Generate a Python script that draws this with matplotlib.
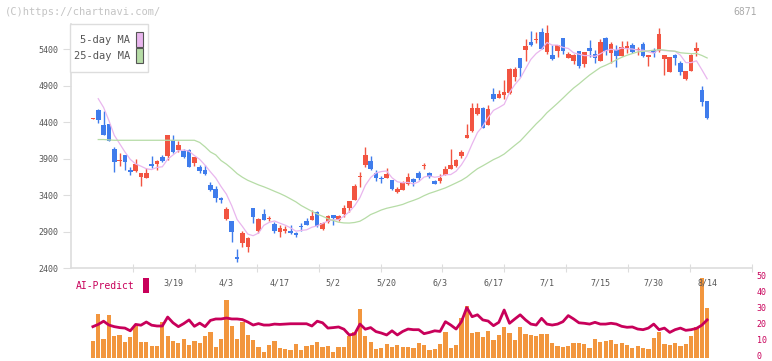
import numpy as np
import pandas as pd
import matplotlib
matplotlib.use("Agg")
import matplotlib.pyplot as plt
from matplotlib.patches import Rectangle
import matplotlib.transforms as mtransforms

plt.rcParams['font.family'] = ['DejaVu Sans Mono']

# daily candles (yen)
opens = [4440, 4565, 4360, 4373, 4031, 3870, 3948, 3743, 3729, 3647,
         3634, 3825, 3825, 3921, 3935, 4154, 4017, 4003, 4017, 3839,
         3784, 3743, 3538, 3483, 3359, 3072, 3044, 2542, 2743, 2688,
         3222, 2907, 3140, 3072, 3003, 2894, 2907, 2907, 2880, 2966,
         3044, 3058, 3168, 2935, 3031, 3127, 3058, 3140, 3222, 3332,
         3640, 3811, 3866, 3702, 3627, 3634, 3606, 3442, 3469, 3551,
         3620, 3702, 3798, 3702, 3592, 3592, 3675, 3757, 3798, 3935,
         4181, 4277, 4510, 4593, 4360, 4784, 4729, 4770, 4798, 5017,
         5277, 5387, 5497, 5520, 5634, 5360, 5318, 5373, 5551, 5277,
         5236, 5373, 5195, 5414, 5332, 5236, 5551, 5346, 5387, 5305,
         5414, 5456, 5380, 5469, 5291, 5387, 5373, 5264, 5086, 5318,
         5209, 4990, 5099, 5373, 4839, 4688]
highs = [4460, 4579, 4551, 4373, 4058, 3976, 3948, 3784, 3894, 3702,
         3770, 3935, 3880, 3948, 4222, 4222, 4140, 4031, 4031, 3921,
         3811, 3811, 3579, 3524, 3373, 3236, 3044, 2661, 2907, 2825,
         3222, 3085, 3209, 3113, 3031, 2989, 2976, 2989, 2894, 3017,
         3085, 3195, 3181, 3031, 3127, 3127, 3127, 3264, 3318, 3551,
         3716, 4058, 3935, 3743, 3661, 3770, 3606, 3510, 3592, 3702,
         3634, 3729, 3839, 3716, 3606, 3688, 3798, 4031, 3890, 4017,
         4373, 4661, 4661, 4606, 4634, 4866, 4839, 4976, 5140, 5154,
         5277, 5538, 5647, 5634, 5688, 5730, 5456, 5455, 5551, 5360,
         5332, 5373, 5360, 5524, 5387, 5538, 5565, 5497, 5456, 5510,
         5510, 5483, 5428, 5497, 5318, 5414, 5688, 5318, 5291, 5332,
         5236, 5099, 5332, 5497, 4894, 4688]
lows = [4440, 4387, 4222, 4140, 3716, 3798, 3743, 3675, 3716, 3524,
        3634, 3770, 3743, 3853, 3880, 3976, 3990, 3907, 3784, 3798,
        3702, 3675, 3455, 3305, 3291, 3058, 2757, 2483, 2688, 2620,
        3017, 2880, 3058, 3044, 2880, 2825, 2880, 2866, 2825, 2907,
        2989, 3058, 2966, 2921, 3017, 2989, 3044, 3099, 3168, 3332,
        3510, 3784, 3743, 3592, 3565, 3634, 3469, 3428, 3469, 3538,
        3524, 3606, 3757, 3634, 3551, 3565, 3675, 3757, 3790, 3907,
        4181, 4263, 4496, 4318, 4360, 4688, 4729, 4716, 4780, 4962,
        5017, 5236, 5442, 5483, 5401, 5332, 5250, 5291, 5332, 5277,
        5195, 5140, 5154, 5291, 5209, 5236, 5318, 5209, 5154, 5305,
        5346, 5346, 5318, 5291, 5168, 5291, 5360, 5044, 5086, 5181,
        5044, 4976, 5099, 5305, 4620, 4441]
closes = [4450, 4428, 4222, 4140, 3853, 3880, 3853, 3716, 3825, 3702,
          3702, 3798, 3866, 3866, 4222, 3990, 4086, 3921, 3784, 3921,
          3729, 3688, 3469, 3359, 3332, 3209, 2894, 2530, 2880, 2811,
          3099, 3072, 3058, 3085, 2907, 2948, 2935, 2880, 2853, 2958,
          2989, 3113, 2976, 3017, 3113, 3085, 3113, 3222, 3318, 3524,
          3647, 3948, 3757, 3634, 3620, 3688, 3483, 3483, 3565, 3647,
          3579, 3634, 3805, 3647, 3551, 3634, 3757, 3811, 3880, 3990,
          4222, 4593, 4593, 4318, 4579, 4716, 4784, 4812, 5127, 5127,
          5140, 5442, 5455, 5530, 5401, 5620, 5264, 5455, 5373, 5332,
          5318, 5168, 5360, 5373, 5277, 5497, 5373, 5469, 5305, 5428,
          5442, 5360, 5387, 5305, 5318, 5346, 5606, 5318, 5291, 5277,
          5086, 5099, 5318, 5414, 4675, 4455]

# moving averages before enough candles are on screen
ma5_head = [np.nan, 4720, 4600, 4420]
ma25_head = [np.nan, 4160, 4160, 4155, 4150, 4150, 4150, 4150, 4150, 4150,
             4150, 4150, 4150, 4150, 4150, 4150, 4150, 4150, 4150, 4150,
             4120, 4060, 3990, 3950]

# AI-Predict panel
ai_bars = [10.6, 27.5, 11.9, 26.9, 13.8, 14.4, 10, 13.1, 20, 10,
           10, 7.5, 7.5, 22.5, 13.8, 10.6, 9.4, 11.9, 8.1, 10.6,
           9.4, 13.8, 16.2, 6.9, 11.9, 36.2, 20, 11.9, 22.5, 14.4,
           11.2, 6.9, 3.8, 8.1, 10.6, 6.2, 5.6, 5, 8.8, 5,
           7.5, 8.1, 10, 6.9, 7.5, 3.8, 6.9, 6.9, 13.8, 16.2,
           30.6, 13.8, 10, 5.6, 6.2, 8.8, 6.9, 8.1, 6.9, 6.9,
           6.2, 9.4, 8.1, 5, 5.6, 8.8, 16.2, 6.2, 8.1, 25,
           32.5, 15.6, 16.2, 13.1, 16.9, 11.2, 14.4, 19.4, 15.6, 11.2,
           19.4, 15, 14.4, 13.8, 15, 15, 9.4, 7.5, 6.9, 7.5,
           9.4, 9.4, 8.8, 6.2, 11.9, 10, 10.6, 11.2, 8.8, 9.4,
           8.1, 6.2, 7.5, 6.2, 5.6, 12.5, 16.2, 8.8, 8.1, 9.4,
           7.5, 8.8, 13.8, 19.4, 50, 31]
ai_line = [19.6, 21, 23, 20.6, 19.6, 19, 18.7, 17, 21, 20.5,
           22.5, 20.5, 20, 20, 25.6, 22, 19.6, 21.5, 23.8, 19.8,
           21.8, 19.6, 23.5, 24.4, 24.4, 25, 24.4, 24.4, 24, 22.5,
           20.6, 21.5, 20.6, 20.6, 21.2, 21, 21.2, 21.4, 21.4, 21.4,
           21.4, 20, 23, 22, 18.7, 19, 19.4, 18, 14.4, 15,
           21.2, 18, 19, 16.5, 15.6, 14.4, 17, 14.4, 16.6, 18.1,
           17.7, 17.7, 15.2, 16, 17, 16.6, 22.7, 20.6, 18.1, 22.7,
           31.5, 25.8, 27, 23.8, 23.1, 20.2, 22.3, 30, 21.7, 24.4,
           27, 23.8, 21.2, 20.6, 24.8, 21.2, 20.6, 21.2, 22.7, 26.5,
           24.4, 22, 21.7, 21.2, 22.3, 21.2, 21.2, 21.7, 21.2, 19.8,
           19.2, 19.4, 18.1, 17.7, 18.7, 21.2, 17.7, 18.7, 16, 17.7,
           18.7, 17.3, 17.7, 18.5, 20.5, 23.8]
ai_ticks = [0, 10, 20, 30, 40, 50]

date_labels = ['3/19', '4/3', '4/17', '5/2', '5/20', '6/3', '6/17',
               '7/1', '7/15', '7/30', '8/14']
date_pos = [15, 25, 35, 45, 55, 65, 75, 85, 95, 105, 115]
price_ticks = [2400, 2900, 3400, 3900, 4400, 4900, 5400]

RED = '#f25441'
BLUE = '#3f7cec'
PINK = '#e9b6ee'
GREEN = '#b6dca6'
ORANGE = '#f2963e'
MAGENTA = '#c8005a'
GRID = '#dddddd'
TXT = '#555555'

W, H = 772, 361


def box(l, t, r, b):
    return [l / W, 1 - b / H, (r - l) / W, (b - t) / H]


o = np.array(opens, float)
h = np.array(highs, float)
lo = np.array(lows, float)
c = np.array(closes, float)
x = np.arange(len(c))

ma5 = pd.Series(c).rolling(5).mean().to_numpy()
ma5[:len(ma5_head)] = ma5_head
ma25 = pd.Series(c).rolling(25).mean().to_numpy()
ma25[:len(ma25_head)] = ma25_head

fig = plt.figure(figsize=(W / 100, H / 100), dpi=100)
ax = fig.add_axes(box(71, 24, 752, 268))
ax2 = fig.add_axes(box(71, 278, 752, 358))
xlim = (-4.1, 123.4)

# candles
col = np.where(c >= o, RED, BLUE)
body_lo = np.minimum(o, c)
body_h = np.maximum(np.abs(c - o), 14)
ax.vlines(x, lo, h, colors=col, lw=1, zorder=2)
ax.bar(x, body_h, bottom=body_lo, width=0.85, color=col, zorder=3)
ax.plot(x, ma5, color=PINK, lw=0.9, zorder=4)
ax.plot(x, ma25, color=GREEN, lw=0.9, zorder=4)

ax.set_xlim(*xlim)
ax.set_ylim(2400, 5743)
ax.set_yticks(price_ticks)
ax.set_yticklabels([str(v) for v in price_ticks])
ax.set_xticks(np.linspace(xlim[0], xlim[1], 12)[1:])
ax.set_xticklabels([])
ax.tick_params(axis='y', length=6, color=GRID, labelsize=6, labelcolor=TXT, pad=3)
ax.tick_params(axis='x', length=6, direction='inout', color=GRID)
for s in ['top', 'right']:
    ax.spines[s].set_visible(False)
for s in ['left', 'bottom']:
    ax.spines[s].set_color(GRID)
    ax.spines[s].set_linewidth(1.2)

# AI-Predict panel
ax2.bar(x, ai_bars, width=0.8, color=ORANGE, zorder=2)
ax2.plot(x, ai_line, color=MAGENTA, lw=2, zorder=3)
ax2.set_xlim(*xlim)
ax2.set_ylim(0, 50)
ax2.set_xticks([])
ax2.set_yticks([])
for s in ax2.spines.values():
    s.set_visible(False)
ax2.patch.set_alpha(0)

rtrans = mtransforms.blended_transform_factory(ax2.transAxes, ax2.transData)
for v in ai_ticks:
    ax2.text(1.007, v + 1.2, str(v), transform=rtrans, ha='left',
             va='center', fontsize=6, color=MAGENTA, clip_on=False)

trans = mtransforms.blended_transform_factory(ax2.transData, ax2.transAxes)
for p, lab in zip(date_pos, date_labels):
    ax2.text(p, 0.94, lab, transform=trans, ha='center', va='center',
             fontsize=6, color=TXT, zorder=5)

# legend
fig.add_artist(Rectangle((70 / W, 1 - 72 / H), 78 / W, 48 / H,
                         transform=fig.transFigure, facecolor='white',
                         edgecolor=GRID, lw=1, zorder=5))
fig.add_artist(Rectangle((136 / W, 1 - 47 / H), 7 / W, 15 / H,
                         transform=fig.transFigure, facecolor=PINK,
                         edgecolor='#555555', lw=0.8, zorder=6))
fig.add_artist(Rectangle((136 / W, 1 - 63 / H), 7 / W, 15 / H,
                         transform=fig.transFigure, facecolor=GREEN,
                         edgecolor='#555555', lw=0.8, zorder=6))
fig.text(130 / W, 1 - 40 / H, '5-day MA', ha='right', va='center',
         fontsize=7.5, color=TXT, zorder=7)
fig.text(130 / W, 1 - 56 / H, '25-day MA', ha='right', va='center',
         fontsize=7.5, color=TXT, zorder=7)

fig.text(76 / W, 1 - 286 / H, 'AI-Predict', ha='left', va='center',
         fontsize=7, color=MAGENTA)
fig.add_artist(Rectangle((143 / W, 1 - 293 / H), 6 / W, 15 / H,
                         transform=fig.transFigure, facecolor=MAGENTA,
                         edgecolor='none', zorder=6))

fig.text(5 / W, 1 - 12 / H, '(C)https://chartnavi.com/', ha='left',
         va='center', fontsize=7.5, color='#c4c4c4')
fig.text(757 / W, 1 - 12 / H, '6871', ha='right', va='center',
         fontsize=7, color='#aaaaaa')

fig.savefig('out.png', dpi=100)
